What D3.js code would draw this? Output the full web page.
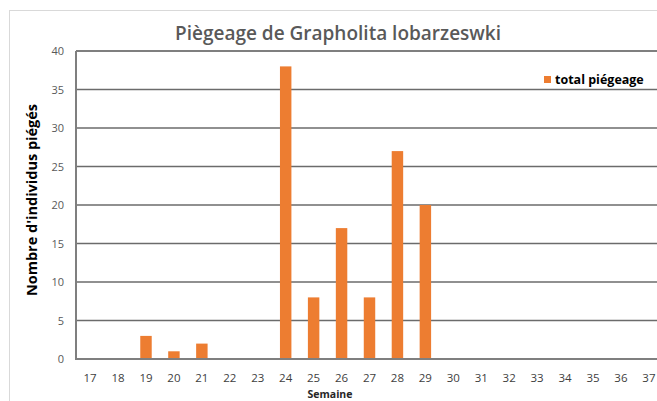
<!DOCTYPE html>
<html>
<head>
<meta charset="utf-8">
<script src="https://cdn.jsdelivr.net/npm/d3@7"></script>
<style>
  body { margin: 0; background: #fff; }
  svg { display: block; font-family: "Open Sans", sans-serif; }
</style>
</head>
<body>
<script>
var weeks = ["17","18","19","20","21","22","23","24","25","26","27","28","29","30","31","32","33","34","35","36","37"];
var catches = [0, 0, 3, 1, 2, 0, 0, 38, 8, 17, 8, 27, 20, 0, 0, 0, 0, 0, 0, 0, 0];
var yTicks = [0, 5, 10, 15, 20, 25, 30, 35, 40];

var data = weeks.map(function(w, i) { return {week: w, value: catches[i]}; });

var W = 657, H = 401;
var margin = {top: 51, left: 76};
var plotW = 587;

var svg = d3.select("body").append("svg")
    .attr("width", W)
    .attr("height", H);

// chart area border
svg.append("rect")
    .attr("x", 9.5).attr("y", 10.5)
    .attr("width", 700).attr("height", 420)
    .attr("fill", "none")
    .attr("stroke", "#d9d9d9");

var x = d3.scaleBand()
    .domain(weeks)
    .range([margin.left, margin.left + plotW])
    .paddingInner(0.59)
    .paddingOuter(0.3);

var y = d3.scaleLinear()
    .domain([0, 40])
    .range([359, 51]);

// gridlines
svg.append("g")
    .selectAll("line")
    .data(yTicks.slice(1))
    .enter()
        .append("line")
        .attr("x1", margin.left).attr("x2", margin.left + plotW)
        .attr("y1", function(d) { return y(d); })
        .attr("y2", function(d) { return y(d); })
        .attr("stroke", function(d) { return d == 40 ? "#7f7f7f" : "#6b6b6b"; })
        .attr("stroke-width", function(d) { return d == 40 ? 2 : 1.3; });

// bars
svg.append("g")
    .selectAll("rect")
    .data(data.filter(function(d) { return d.value > 0; }))
    .enter()
        .append("rect")
        .attr("x", function(d) { return x(d.week); })
        .attr("y", function(d) { return y(d.value); })
        .attr("width", x.bandwidth())
        .attr("height", function(d) { return y(0) - y(d.value); })
        .attr("fill", "#ED7D31");

// axis lines
svg.append("line")
    .attr("x1", margin.left).attr("x2", margin.left)
    .attr("y1", y(40)).attr("y2", y(0))
    .attr("stroke", "#7f7f7f").attr("stroke-width", 2);
svg.append("line")
    .attr("x1", margin.left - 1).attr("x2", margin.left + plotW)
    .attr("y1", y(0)).attr("y2", y(0))
    .attr("stroke", "#7f7f7f").attr("stroke-width", 2);

// y tick labels
svg.append("g")
    .selectAll("text")
    .data(yTicks)
    .enter()
        .append("text")
        .attr("x", 64)
        .attr("y", function(d) { return y(d) + 4; })
        .attr("text-anchor", "end")
        .attr("font-size", 11)
        .attr("fill", "#595959")
        .text(function(d) { return d; });

// x tick labels
svg.append("g")
    .selectAll("text")
    .data(weeks)
    .enter()
        .append("text")
        .attr("x", function(d) { return x(d) + x.bandwidth() / 2; })
        .attr("y", 382)
        .attr("text-anchor", "middle")
        .attr("font-size", 11.5)
        .attr("fill", "#404040")
        .text(function(d) { return d; });

// titles
svg.append("text")
    .attr("x", 338).attr("y", 40)
    .attr("text-anchor", "middle")
    .attr("font-size", 19)
    .attr("font-weight", 600)
    .attr("fill", "#595959")
    .text("Piègeage de Grapholita lobarzeswki");

svg.append("text")
    .attr("transform", "translate(37,200) rotate(-90)")
    .attr("text-anchor", "middle")
    .attr("font-size", 14.5)
    .attr("font-weight", "bold")
    .attr("fill", "#000")
    .text("Nombre d'individus piégés");

svg.append("text")
    .attr("x", 330).attr("y", 398)
    .attr("text-anchor", "middle")
    .attr("font-size", 10.5)
    .attr("font-weight", "bold")
    .attr("fill", "#262626")
    .text("Semaine");

// legend
svg.append("rect")
    .attr("x", 544).attr("y", 76)
    .attr("width", 7).attr("height", 7)
    .attr("fill", "#ED7D31");
svg.append("text")
    .attr("x", 555).attr("y", 84)
    .attr("font-size", 12.5)
    .attr("font-weight", "bold")
    .attr("fill", "#000")
    .text("total piégeage");
</script>
</body>
</html>
